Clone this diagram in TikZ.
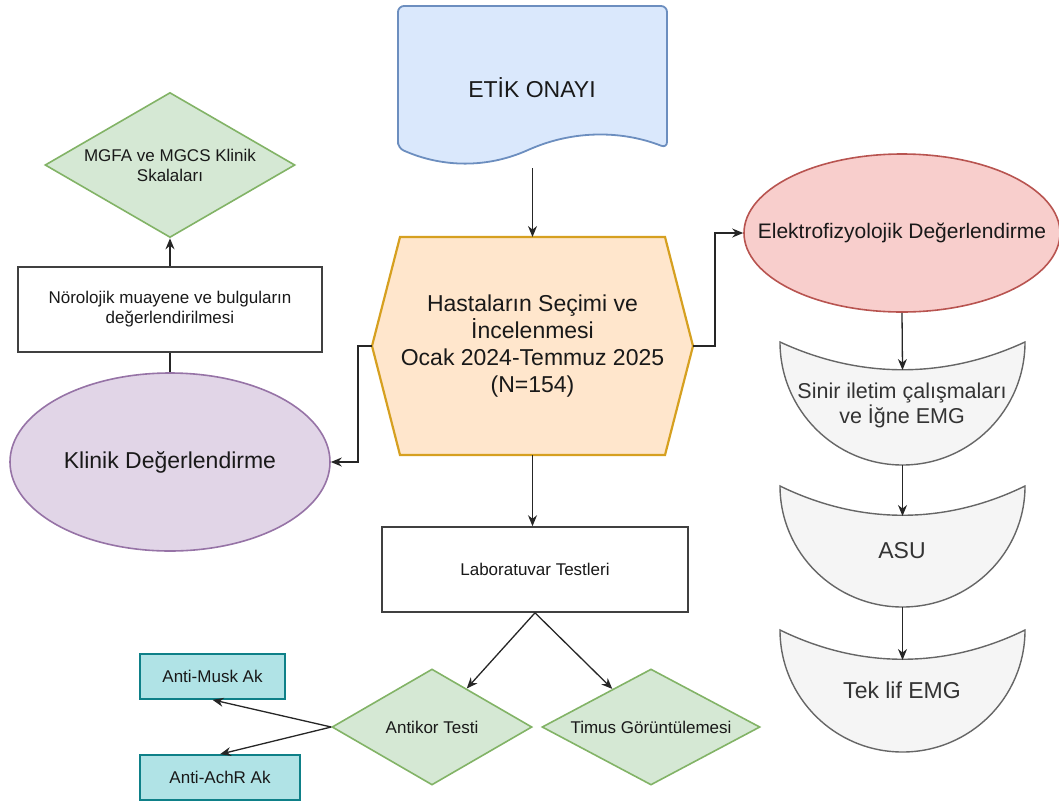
\documentclass[tikz,border=0pt]{standalone}
\usepackage{fontspec}
\setmainfont{Liberation Sans}
\usetikzlibrary{shapes.geometric,arrows.meta,positioning}

\definecolor{etikfill}{HTML}{DAE8FC}
\definecolor{etikline}{HTML}{6C8EBF}
\definecolor{hexfill}{HTML}{FFE6CC}
\definecolor{hexline}{HTML}{D6A020}
\definecolor{redfill}{HTML}{F8CECC}
\definecolor{redline}{HTML}{B85450}
\definecolor{purplefill}{HTML}{E1D5E7}
\definecolor{purpleline}{HTML}{9673A6}
\definecolor{greenfill}{HTML}{D5E8D4}
\definecolor{greenline}{HTML}{82B366}
\definecolor{tealfill}{HTML}{B0E3E6}
\definecolor{tealline}{HTML}{0E8088}
\definecolor{bowlfill}{HTML}{F5F5F5}
\definecolor{bowlline}{HTML}{666666}
\definecolor{bowltxt}{HTML}{333333}

\tikzset{
  base/.style={line width=1.6pt, font=\fontsize{17}{20}\selectfont, align=center, inner sep=0pt, text=black!90},
  smalltext/.style={font=\fontsize{17}{20}\selectfont, align=center, text=black!90},
  bigtext/.style={font=\fontsize{23}{27}\selectfont, align=center, text=black!90},
  etikbox/.style={draw=etikline, fill=etikfill, line width=1.8pt},
  hexbox/.style={draw=hexline, fill=hexfill, line width=2.2pt},
  redbox/.style={base, ellipse, draw=redline, fill=redfill, minimum width=316pt, minimum height=158pt},
  purplebox/.style={base, ellipse, draw=purpleline, fill=purplefill, minimum width=320pt, minimum height=178pt},
  greenbox/.style={base, diamond, draw=greenline, fill=greenfill},
  tealbox/.style={base, rectangle, draw=tealline, fill=tealfill, minimum height=45pt},
  plainbox/.style={base, rectangle, draw=black!75, fill=white, minimum height=85pt},
  bowlbox/.style={draw=bowlline, fill=bowlfill, line width=1.4pt},
  bowltext/.style={bigtext, text=bowltxt},
  conn/.style={->, >={Stealth[length=11pt,width=9pt]}, line width=1.3pt, draw=black!85},
  link/.style={line width=1.3pt, draw=black!85}
}

\begin{document}
\begin{tikzpicture}[x=1pt,y=-1pt]
\useasboundingbox (0,0) rectangle (1059,801);

% Ethics approval
\draw[etikbox, rounded corners=6pt] (398,148) -- (398,6) -- (667,6) -- (667,148)
        .. controls (622.8,130.7) and (578,130.7) .. (532.5,148)
        .. controls (487.5,168) and (442.7,168) .. (398,148) -- cycle;
\node[bigtext] (etik) at (532,88) {ETİK ONAYI};
\coordinate (etikS) at (532.5,168);

% Patient selection
\draw[hexbox] (372,346) coordinate (hexW) -- (400,237) -- (665,237)
        -- (693,346) coordinate (hexE) -- (665,455) -- (400,455) -- cycle;
\node[bigtext] (hex) at (532.5,346) {Hastaların Seçimi ve\\İncelenmesi\\Ocak 2024-Temmuz 2025\\(N=154)};
\coordinate (hexN) at (532.5,237);
\coordinate (hexS) at (532.5,455);

% Clinical side
\node[purplebox, label={[bigtext]center:Klinik Değerlendirme}] (klinik) at (170,462) {};
\node[plainbox, minimum width=304pt] (noro) at (170,309.5) {Nörolojik muayene ve bulguların\\değerlendirilmesi};
\node[greenbox, minimum width=250pt, minimum height=145pt,
      label={[smalltext]center:MGFA ve MGCS Klinik\\Skalaları}] (mgfa) at (170,165) {};

% Electrophysiology side
\node[redbox, label={[bigtext, font=\fontsize{21}{25}\selectfont]center:Elektrofizyolojik Değerlendirme}] (elektro) at (902,233) {};

\draw[bowlbox] (780,342) .. controls (860,379) and (945,379) .. (1025,342)
        arc[start angle=0, end angle=180, x radius=122.5, y radius=123] -- cycle;
\node[bowltext, font=\fontsize{21.5}{25}\selectfont] (sinir) at (902,405) {Sinir iletim çalışmaları\\ve İğne EMG};
\coordinate (sinirN) at (902.5,370);
\coordinate (sinirS) at (902.5,465);

\draw[bowlbox] (780,486) .. controls (860,525) and (945,525) .. (1025,486)
        arc[start angle=0, end angle=180, x radius=122.5, y radius=121] -- cycle;
\node[bowltext] (asu) at (902,551) {ASU};
\coordinate (asuN) at (902.5,516);
\coordinate (asuS) at (902.5,607);

\draw[bowlbox] (780,630) .. controls (860,669) and (945,669) .. (1025,630)
        arc[start angle=0, end angle=180, x radius=122.5, y radius=122] -- cycle;
\node[bowltext] (tek) at (902,690) {Tek lif EMG};
\coordinate (tekN) at (902.5,660);
\coordinate (tekS) at (902.5,752);

% Laboratory
\node[plainbox, minimum width=306pt] (lab) at (535,569.5) {Laboratuvar Testleri};
\node[greenbox, minimum width=200pt, minimum height=116pt,
      label={[smalltext]center:Antikor Testi}] (antikor) at (432,727) {};
\node[greenbox, minimum width=218pt, minimum height=116pt,
      label={[smalltext]center:Timus Görüntülemesi}] (timus) at (651,727) {};
\node[tealbox, minimum width=145pt] (musk) at (212.5,676.5) {Anti-Musk Ak};
\node[tealbox, minimum width=160pt] (achr) at (220,777.5) {Anti-AchR Ak};

% Connections
\draw[conn] (etikS) -- (hexN);
\draw[conn] (hexE) -- ++(22,0) |- (elektro.west);
\draw[conn] (hexW) -- ++(-14,0) |- (klinik.east);
\draw[link] (klinik.north) -- (noro.south);
\draw[conn] (noro.north) -- (mgfa.south);
\draw[conn] (hexS) -- (hexS |- lab.north);

\draw[conn] (elektro.south) -- (sinirN);
\draw[conn] (sinirS) -- (asuN);
\draw[conn] (asuS) -- (tekN);

\draw[conn] (lab.south) -- (antikor);
\draw[conn] (lab.south) -- (timus);
\draw[conn] (antikor.west) -- (musk.south);
\draw[conn] (antikor.west) -- (achr.north);

\end{tikzpicture}
\end{document}
